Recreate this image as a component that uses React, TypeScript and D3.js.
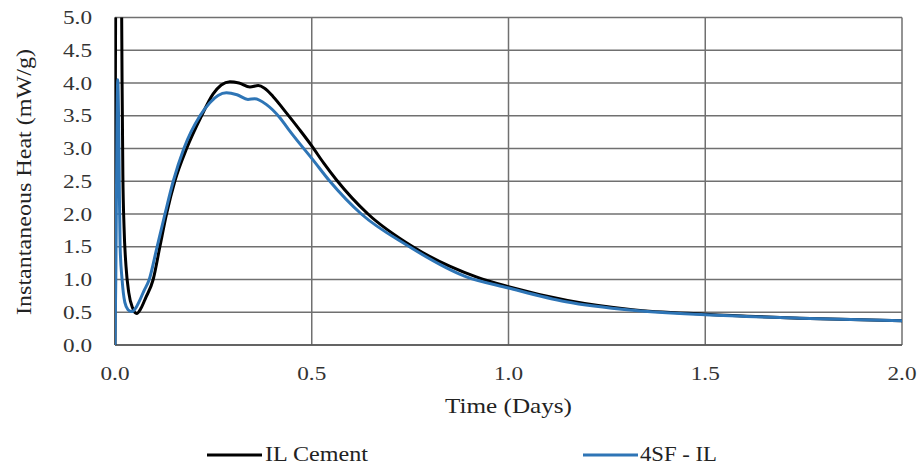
import React from "react";
import * as d3 from "d3";

const xTicks = [0, 0.5, 1.0, 1.5, 2.0];
const yTicks = [0, 0.5, 1.0, 1.5, 2.0, 2.5, 3.0, 3.5, 4.0, 4.5, 5.0];

// IL Cement (black)
const ilTime = [0, 0.001, 0.003, 0.009, 0.014, 0.016, 0.018, 0.02, 0.023, 0.028, 0.035, 0.045, 0.055, 0.066, 0.078, 0.097, 0.114, 0.131, 0.152, 0.182, 0.22, 0.249, 0.27, 0.292, 0.315, 0.343, 0.364, 0.38, 0.402, 0.436, 0.47, 0.5, 0.53, 0.563, 0.643, 0.757, 0.918, 1.0, 1.15, 1.315, 1.5, 1.74, 2.0];
const ilHeat = [0, 4, 8, 9, 8, 6, 4, 2.6, 1.8, 1.2, 0.8, 0.56, 0.48, 0.56, 0.72, 1.0, 1.5, 2.0, 2.5, 3.0, 3.5, 3.83, 3.97, 4.02, 4.0, 3.94, 3.96, 3.92, 3.79, 3.54, 3.28, 3.04, 2.78, 2.52, 2.0, 1.5, 1.04, 0.89, 0.68, 0.54, 0.47, 0.41, 0.37];

// 4SF - IL (blue)
const sfTime = [0, 0.002, 0.005, 0.007, 0.009, 0.011, 0.013, 0.018, 0.025, 0.033, 0.042, 0.052, 0.062, 0.073, 0.087, 0.107, 0.127, 0.148, 0.175, 0.216, 0.241, 0.262, 0.283, 0.31, 0.338, 0.355, 0.385, 0.419, 0.44, 0.47, 0.5, 0.546, 0.626, 0.74, 0.893, 1.0, 1.146, 1.315, 1.5, 1.74, 2.0];
const sfHeat = [0, 1.0, 3.3, 4.05, 3.5, 2.4, 1.5, 1.0, 0.65, 0.54, 0.51, 0.56, 0.67, 0.82, 1.0, 1.5, 2.0, 2.5, 3.0, 3.5, 3.7, 3.81, 3.85, 3.82, 3.75, 3.76, 3.67, 3.47, 3.3, 3.07, 2.85, 2.5, 2.0, 1.53, 1.04, 0.87, 0.66, 0.53, 0.46, 0.41, 0.37];

const seriesNames = ["IL Cement", "4SF - IL"];
const seriesColors = ["#000000", "#2E75B6"];

const FONT = "'Liberation Serif', 'Times New Roman', serif";

export default function App() {
  const left = 115, right = 902, top = 17.5, bottom = 345;
  const x = d3.scaleLinear().domain([0, 2]).range([left, right]);
  const y = d3.scaleLinear().domain([0, 5]).range([bottom, top]);
  const line = d3
    .line<[number, number]>()
    .x((d) => x(d[0]))
    .y((d) => y(d[1]))
    .curve(d3.curveMonotoneX);
  const il = ilTime.map((t, i) => [t, ilHeat[i]] as [number, number]);
  const sf = sfTime.map((t, i) => [t, sfHeat[i]] as [number, number]);

  return (
    <svg
      width={921}
      height={466}
      style={{ position: "absolute", left: 0, top: 0, background: "#fff" }}
      fontFamily={FONT}
    >
      <defs>
        <clipPath id="plotClip">
          <rect x={left} y={top} width={right - left} height={bottom - top} />
        </clipPath>
      </defs>
      {yTicks.map((t) => (
        <line key={"h" + t} x1={left} x2={right} y1={y(t)} y2={y(t)} stroke="#707070" strokeWidth={1.5} />
      ))}
      {xTicks.map((t) => (
        <line key={"v" + t} x1={x(t)} x2={x(t)} y1={top} y2={bottom} stroke="#707070" strokeWidth={1.5} />
      ))}
      <line x1={left} x2={left} y1={top} y2={bottom} stroke="#444" strokeWidth={1.5} />
      <line x1={left} x2={right} y1={bottom} y2={bottom} stroke="#555" strokeWidth={1.5} />
      <g clipPath="url(#plotClip)">
        <path d={line(il) || ""} fill="none" stroke={seriesColors[0]} strokeWidth={3} strokeLinejoin="round" />
        <path d={line(sf) || ""} fill="none" stroke={seriesColors[1]} strokeWidth={3} strokeLinejoin="round" />
      </g>
      {yTicks.map((t) => (
        <text key={"yl" + t} x={92} y={y(t) + 6.5} textAnchor="end" fontSize={19} fill="#333" textLength={29} lengthAdjust="spacingAndGlyphs">
          {t.toFixed(1)}
        </text>
      ))}
      {xTicks.map((t) => (
        <text key={"xl" + t} x={x(t) - 14.5} y={380} fontSize={19} fill="#333" textLength={29} lengthAdjust="spacingAndGlyphs">
          {t.toFixed(1)}
        </text>
      ))}
      <text x={445} y={413} fontSize={22} fill="#222" textLength={127} lengthAdjust="spacingAndGlyphs">
        Time (Days)
      </text>
      <text
        transform="translate(31,315) rotate(-90)"
        x={0}
        y={0}
        fontSize={22}
        fill="#222"
        textLength={266}
        lengthAdjust="spacingAndGlyphs"
      >
        Instantaneous Heat (mW/g)
      </text>
      <line x1={207} x2={262} y1={455} y2={455} stroke={seriesColors[0]} strokeWidth={3} />
      <text x={265} y={461} fontSize={20} fill="#222" textLength={103} lengthAdjust="spacingAndGlyphs">
        {seriesNames[0]}
      </text>
      <line x1={583} x2={638} y1={455} y2={455} stroke={seriesColors[1]} strokeWidth={3} />
      <text x={640} y={461} fontSize={20} fill="#222" textLength={77} lengthAdjust="spacingAndGlyphs">
        {seriesNames[1]}
      </text>
    </svg>
  );
}
